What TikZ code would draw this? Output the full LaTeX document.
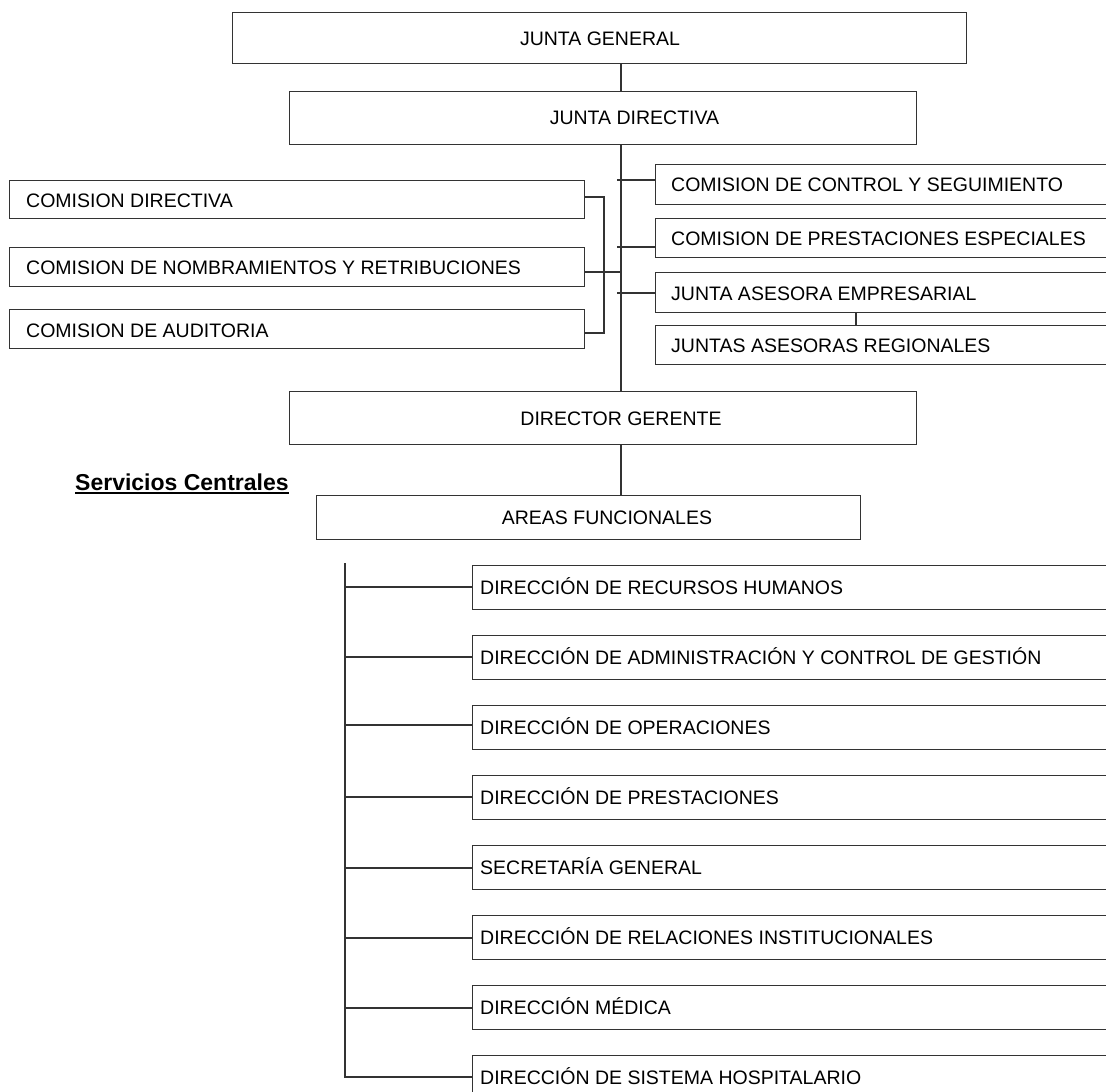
\documentclass[tikz,border=0pt]{standalone}
\usepackage{fontspec}
\setmainfont{Liberation Sans}
\begin{document}
\begin{tikzpicture}[x=1pt,y=-1pt,
  box/.style={draw=black!80, line width=1.3pt, inner sep=0pt, anchor=north west},
  lbl/.style={font=\fontsize{19.5}{22}\selectfont, inner sep=0pt, text height=14pt, text depth=0pt},
  conn/.style={draw=black!80, line width=1.3pt},
  title/.style={font=\fontsize{23}{26}\selectfont\bfseries, inner sep=0pt, text depth=0pt}
]
\clip (0,0) rectangle (1106,1092);
\fill[white] (0,0) rectangle (1106,1092);

% top chain
\node[box, minimum width=734pt, minimum height=51pt] (jg) at (232,12) {};
\node[lbl] (jgt) at (600,38.5) {JUNTA GENERAL};
\node[box, minimum width=627pt, minimum height=53pt] (jd) at (289,91) {};
\node[lbl] (jdt) at (634.5,117.5) {JUNTA DIRECTIVA};
\node[box, minimum width=627pt, minimum height=53pt] (dg) at (289,391) {};
\node[lbl] (dgt) at (621,418.5) {DIRECTOR GERENTE};
\node[box, minimum width=544pt, minimum height=44pt] (af) at (316,495) {};
\node[lbl] (aft) at (607,517) {AREAS FUNCIONALES};

\coordinate (spine) at (621,0);
\draw[conn] (jg.south -| spine) -- (jd.north -| spine);
\draw[conn] (jd.south -| spine) -- (dg.north -| spine);
\draw[conn] (dg.south -| spine) -- (af.north -| spine);

% right boxes
\node[box, minimum width=480pt, minimum height=40pt] (r1) at (655,164) {};
\node[lbl, anchor=west] (r1t) at (671,184) {COMISION DE CONTROL Y SEGUIMIENTO};
\node[box, minimum width=480pt, minimum height=39pt] (r2) at (655,218) {};
\node[lbl, anchor=west] (r2t) at (671,238.5) {COMISION DE PRESTACIONES ESPECIALES};
\node[box, minimum width=480pt, minimum height=40pt] (r3) at (655,272) {};
\node[lbl, anchor=west] (r3t) at (671,293.5) {JUNTA ASESORA EMPRESARIAL};
\node[box, minimum width=480pt, minimum height=39pt] (r4) at (655,325) {};
\node[lbl, anchor=west] (r4t) at (671,345.5) {JUNTAS ASESORAS REGIONALES};

\coordinate (s1) at (617,180);
\coordinate (s2) at (617,247);
\coordinate (s3) at (617,293);
\draw[conn] (s1) -- (s1 -| r1.west);
\draw[conn] (s2) -- (s2 -| r2.west);
\draw[conn] (s3) -- (s3 -| r3.west);
\coordinate (rj) at (856,0);
\draw[conn] (r3.south -| rj) -- (r4.north -| rj);

% left boxes
\node[box, minimum width=575pt, minimum height=38pt] (l1) at (9,180) {};
\node[lbl, anchor=west] (l1t) at (26,200.5) {COMISION DIRECTIVA};
\node[box, minimum width=575pt, minimum height=39pt] (l2) at (9,247) {};
\node[lbl, anchor=west] (l2t) at (26,267.5) {COMISION DE NOMBRAMIENTOS Y RETRIBUCIONES};
\node[box, minimum width=575pt, minimum height=39pt] (l3) at (9,309) {};
\node[lbl, anchor=west] (l3t) at (26,330) {COMISION DE AUDITORIA};

\coordinate (bt) at (604,197);
\coordinate (bb) at (604,333);
\coordinate (bm) at (621,272);
\draw[conn] (bt -| l1.east) -- (bt) -- (bb) -- (bb -| l3.east);
\draw[conn] (bm -| l2.east) -- (bm);

% title
\node[title, anchor=base west] (sc) at (75,490) {Servicios Centrales};
\draw[line width=2pt] ([yshift=-3pt]sc.base west) -- ([yshift=-3pt]sc.base east);

% bottom list
\node[box, minimum width=650pt, minimum height=44pt] (d1) at (472,565) {};
\node[lbl, anchor=west] (d1t) at (480,587) {DIRECCIÓN DE RECURSOS HUMANOS};
\node[box, minimum width=650pt, minimum height=44pt] (d2) at (472,635) {};
\node[lbl, anchor=west] (d2t) at (480,657) {DIRECCIÓN DE ADMINISTRACIÓN Y CONTROL DE GESTIÓN};
\node[box, minimum width=650pt, minimum height=44pt] (d3) at (472,705) {};
\node[lbl, anchor=west] (d3t) at (480,727) {DIRECCIÓN DE OPERACIONES};
\node[box, minimum width=650pt, minimum height=44pt] (d4) at (472,775) {};
\node[lbl, anchor=west] (d4t) at (480,797) {DIRECCIÓN DE PRESTACIONES};
\node[box, minimum width=650pt, minimum height=44pt] (d5) at (472,845) {};
\node[lbl, anchor=west] (d5t) at (480,867) {SECRETARÍA GENERAL};
\node[box, minimum width=650pt, minimum height=44pt] (d6) at (472,915) {};
\node[lbl, anchor=west] (d6t) at (480,937) {DIRECCIÓN DE RELACIONES INSTITUCIONALES};
\node[box, minimum width=650pt, minimum height=44pt] (d7) at (472,985) {};
\node[lbl, anchor=west] (d7t) at (480,1007) {DIRECCIÓN MÉDICA};
\node[box, minimum width=650pt, minimum height=44pt] (d8) at (472,1055) {};
\node[lbl, anchor=west] (d8t) at (480,1077) {DIRECCIÓN DE SISTEMA HOSPITALARIO};

\coordinate (bus) at (345,563);
\coordinate (k1) at (345,587);
\coordinate (k2) at (345,657);
\coordinate (k3) at (345,725);
\coordinate (k4) at (345,797);
\coordinate (k5) at (345,868);
\coordinate (k6) at (345,938);
\coordinate (k7) at (345,1008);
\coordinate (k8) at (345,1077);
\draw[conn] (bus) -- (k8) -- (k8 -| d8.west);
\foreach \k/\d in {k1/d1,k2/d2,k3/d3,k4/d4,k5/d5,k6/d6,k7/d7}
  \draw[conn] (\k) -- (\k -| \d.west);
\end{tikzpicture}
\end{document}
